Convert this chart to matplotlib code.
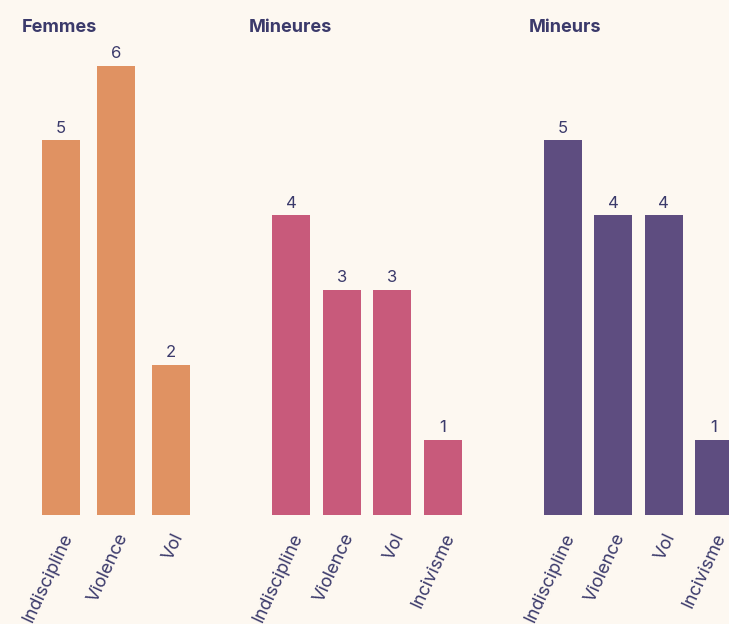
import matplotlib
matplotlib.use("Agg")
import matplotlib.pyplot as plt

# Data
femmes_cats = ["Indiscipline", "Violence", "Vol"]
femmes_vals = [5, 6, 2]
mineures_cats = ["Indiscipline", "Violence", "Vol", "Incivisme"]
mineures_vals = [4, 3, 3, 1]
mineurs_cats = ["Indiscipline", "Violence", "Vol", "Incivisme"]
mineurs_vals = [5, 4, 4, 1]
titles = ["Femmes", "Mineures", "Mineurs"]

BG = "#FDF8F1"
TXT = "#3B3A6B"
colors = ["#E09262", "#C85A7B", "#5E4D80"]

W, H = 729, 624
fig = plt.figure(figsize=(W / 100, H / 100), dpi=100, facecolor=BG)

FONT = "Inter"
baseline_px = 515
unit_px = 74.9

# panel layout in pixels: (first bar center, spacing)
panels = [
    (femmes_cats, femmes_vals, 61, 55.0, 22),
    (mineures_cats, mineures_vals, 291, 50.7, 249),
    (mineurs_cats, mineurs_vals, 563, 50.3, 529),
]

for i, (cats, vals, c0, sp, tx) in enumerate(panels):
    n = len(cats)
    left = c0 - sp / 2
    width = n * sp
    ymax = 6.4
    height = ymax * unit_px
    ax = fig.add_axes([left / W, (H - baseline_px) / H, width / W, height / H])
    ax.set_facecolor("none")
    xs = list(range(n))
    bars = ax.bar(xs, vals, width=38 / sp, color=colors[i], clip_on=False)
    ax.set_xlim(-0.5, n - 0.5)
    ax.set_ylim(0, ymax)
    for b, v in zip(bars, vals):
        ax.annotate(str(v), (b.get_x() + b.get_width() / 2, v), xytext=(0, 3.5),
                    textcoords="offset points", ha="center", va="bottom",
                    fontsize=12, color=TXT, family=FONT, annotation_clip=False)
    ax.set_xticks(xs)
    ax.set_xticklabels(cats, rotation=65, ha="right", va="top",
                       rotation_mode="anchor", fontsize=13, color=TXT,
                       family=FONT)
    ax.tick_params(axis="x", length=0, pad=11)
    ax.set_yticks([])
    for s in ax.spines.values():
        s.set_visible(False)
    fig.text(tx / W, 1 - 27 / H, titles[i], ha="left", va="center",
             fontsize=13, fontweight="bold", color=TXT, family=FONT)

fig.savefig("out.png", dpi=100, facecolor=BG)
